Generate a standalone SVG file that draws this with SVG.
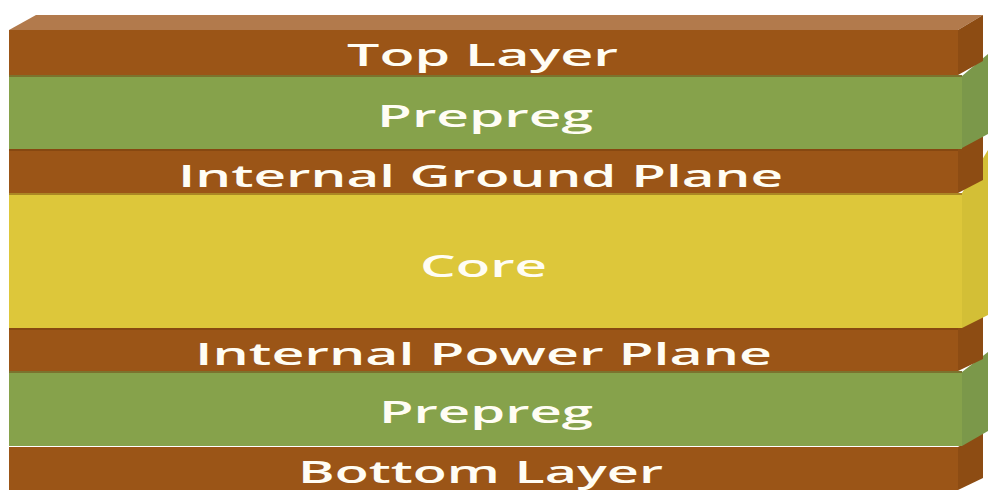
<svg xmlns="http://www.w3.org/2000/svg" width="1000" height="500" viewBox="0 0 1000 500">
<style>
.cu{fill:#9b5517}.cus{fill:#8d4c13}.cut{fill:#b27a4c}
.pp{fill:#86a24b}.pps{fill:#7b984a}
.co{fill:#ddc73a}.cos{fill:#d3bf36}
.lbl{font-family:"Open Sans","DejaVu Sans",sans-serif;font-weight:600;font-size:31px;fill:#fffdf4;text-anchor:start}
.edge{fill:#6e3a0c;opacity:0.45}
</style>
<rect width="1000" height="500" fill="#ffffff"/>
<g id="bottom-layer">
<polygon class="cus" points="958,447 983,432 983,478 958,490"/>
<rect class="cu" x="9" y="447" width="949" height="43"/>
<text class="lbl" x="298" y="483" textLength="365" lengthAdjust="spacingAndGlyphs">Bottom Layer</text>
</g>
<g id="prepreg-2">
<polygon class="pps" points="962,372 988,352 988,431 962,446"/>
<rect class="pp" x="9" y="371" width="953" height="75"/>
<rect class="edge" x="9" y="371" width="953" height="2"/>
<text class="lbl" x="379" y="423" textLength="214" lengthAdjust="spacingAndGlyphs">Prepreg</text>
</g>
<g id="internal-power-plane">
<polygon class="cus" points="958,328 983,316 983,359 958,371"/>
<rect class="cu" x="9" y="328" width="949" height="43"/>
<rect class="edge" x="9" y="328" width="949" height="2"/>
<text class="lbl" x="195" y="365" textLength="577" lengthAdjust="spacingAndGlyphs">Internal Power Plane</text>
</g>
<g id="core">
<polygon class="cos" points="962,193 988,150 988,315 962,328"/>
<rect class="co" x="9" y="193" width="953" height="135"/>
<rect class="edge" x="9" y="193" width="953" height="2"/>
<text class="lbl" x="420" y="277" textLength="127" lengthAdjust="spacingAndGlyphs">Core</text>
</g>
<g id="internal-ground-plane">
<polygon class="cus" points="958,149 983,136 983,180 958,193"/>
<rect class="cu" x="9" y="149" width="949" height="44"/>
<rect class="edge" x="9" y="149" width="949" height="2"/>
<text class="lbl" x="178" y="187" textLength="605" lengthAdjust="spacingAndGlyphs">Internal Ground Plane</text>
</g>
<g id="prepreg-1">
<polygon class="pps" points="962,76 988,54 988,134 962,148"/>
<rect class="pp" x="9" y="75" width="953" height="74"/>
<rect class="edge" x="9" y="75" width="953" height="2"/>
<text class="lbl" x="377" y="127" textLength="216" lengthAdjust="spacingAndGlyphs">Prepreg</text>
</g>
<g id="top-layer">
<polygon class="cut" points="9,30 36,15 983,15 958,30"/>
<polygon class="cus" points="958,30 983,15 983,61 958,75"/>
<rect class="cu" x="9" y="30" width="949" height="45"/>
<text class="lbl" x="347" y="66" textLength="271" lengthAdjust="spacingAndGlyphs">Top Layer</text>
</g>
</svg>
